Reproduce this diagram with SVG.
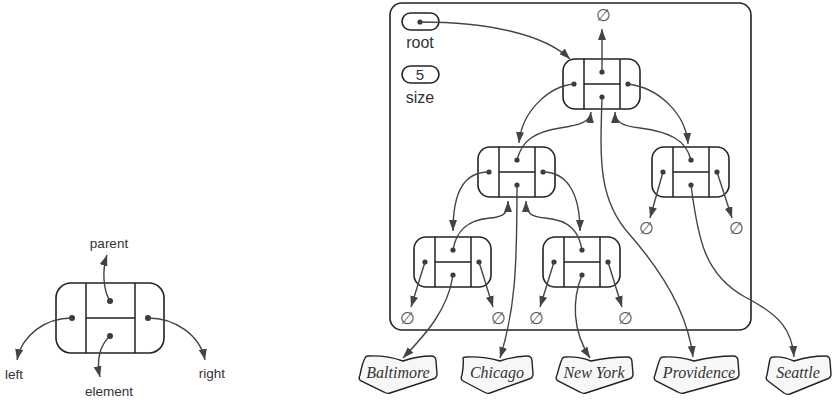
<svg xmlns="http://www.w3.org/2000/svg" width="835" height="405" viewBox="0 0 835 405">
<style>
.box{fill:#fff;stroke:#222;stroke-width:1.6}
.div{stroke:#222;stroke-width:1.5;fill:none}
.dot{fill:#3a3a3a}
.con{fill:none;stroke:#444;stroke-width:1.4}
.lbl{font-family:"Liberation Sans",Arial,sans-serif;fill:#333}
.nul{font-family:"DejaVu Serif","Liberation Serif",serif;font-size:17px;fill:#555;text-anchor:middle}
.tag{fill:#f7f7f7;stroke:#222;stroke-width:1.4}
.city{font-family:"Liberation Serif","Times New Roman",serif;font-style:italic;font-size:16px;fill:#333;text-anchor:middle}
</style>
<defs>
<marker id="ah" markerUnits="userSpaceOnUse" markerWidth="11" markerHeight="8" refX="11" refY="4" orient="auto">
<path d="M0,0 L11,4 L0,8 z" fill="#444"/>
</marker>
<g id="tn">
<rect class="box" x="0" y="0" width="77" height="50" rx="12"/>
<path class="div" d="M21,0 V50 M57,0 V50 M21,25 H57"/>
<circle class="dot" cx="11" cy="25" r="2.6"/>
<circle class="dot" cx="39" cy="13" r="2.6"/>
<circle class="dot" cx="65" cy="25" r="2.6"/>
<circle class="dot" cx="39" cy="38" r="2.6"/>
</g>
</defs>

<g id="legend">
<rect class="box" x="56" y="283" width="108" height="70" rx="15"/>
<path class="div" d="M86,283 V353 M135,283 V353 M86,318 H135"/>
<circle class="dot" cx="110" cy="301" r="3"/>
<circle class="dot" cx="72" cy="318" r="3"/>
<circle class="dot" cx="148" cy="318" r="3"/>
<circle class="dot" cx="110" cy="336" r="3"/>
<text class="lbl" x="109" y="248" font-size="13.5" text-anchor="middle">parent</text>
<text class="lbl" x="14" y="379" font-size="13.5" text-anchor="middle">left</text>
<text class="lbl" x="109" y="396" font-size="13.5" text-anchor="middle">element</text>
<text class="lbl" x="212" y="378" font-size="13.5" text-anchor="middle">right</text>
</g>

<g id="container">
<rect x="390" y="3" width="361" height="327" rx="12" fill="none" stroke="#222" stroke-width="1.6"/>
</g>

<g id="root">
<rect class="box" x="402" y="13" width="37" height="17" rx="8.5"/>
<circle class="dot" cx="420" cy="22" r="2.6"/>
<text class="lbl" x="420" y="48" font-size="16" text-anchor="middle">root</text>
</g>
<g id="size">
<rect class="box" x="402" y="66" width="37" height="17" rx="8.5"/>
<text class="lbl" x="420" y="80" font-size="15" text-anchor="middle">5</text>
<text class="lbl" x="420" y="103" font-size="16" text-anchor="middle">size</text>
</g>

<g id="node-root"><use href="#tn" x="563" y="59"/></g>
<g id="node-ml"><use href="#tn" x="478" y="147"/></g>
<g id="node-r"><use href="#tn" x="652" y="147"/></g>
<g id="node-bl"><use href="#tn" x="414" y="237"/></g>
<g id="node-br"><use href="#tn" x="543" y="237"/></g>

<g id="nulls">
<text class="nul" x="603" y="21">∅</text>
<text class="nul" x="407" y="324">∅</text>
<text class="nul" x="498" y="324">∅</text>
<text class="nul" x="536" y="324">∅</text>
<text class="nul" x="625" y="324">∅</text>
<text class="nul" x="646" y="234">∅</text>
<text class="nul" x="736" y="234">∅</text>
</g>

<g id="tag-baltimore">
<path class="tag" d="M368,356 Q386,355 403,361 Q418,356 431,356 Q436,356 436,361 L437,374 Q437,378 433,379 L390,393 Q387,394 384,392 L361,381 Q358,379 360,375 Q362,364 365,358 Q366,356 368,356 Z"/>
<text class="city" x="398" y="378">Baltimore</text>
</g>
<g id="tag-chicago">
<path class="tag" d="M466,357 Q483,356 500,361 Q515,356 527,356 Q532,356 532,361 L533,374 Q533,378 529,379 L490,393 Q487,394 484,392 L463,381 Q460,379 462,375 Q464,364 463,358 Q464,357 466,357 Z"/>
<text class="city" x="497" y="378">Chicago</text>
</g>
<g id="tag-newyork">
<path class="tag" d="M565,357 Q578,356 591,361 Q610,357 627,357 Q632,357 632,362 L633,374 Q633,378 629,379 L586,393 Q583,394 580,392 L558,381 Q555,379 557,375 Q560,364 562,359 Q563,357 565,357 Z"/>
<text class="city" x="594" y="378">New York</text>
</g>
<g id="tag-providence">
<path class="tag" d="M663,357 Q678,356 694,361 Q715,356 733,356 Q738,356 738,361 L739,374 Q739,378 735,379 L684,393 Q681,394 678,392 L656,381 Q653,379 655,375 Q658,364 660,359 Q661,357 663,357 Z"/>
<text class="city" x="699" y="378">Providence</text>
</g>
<g id="tag-seattle">
<path class="tag" d="M773,357 Q783,356 794,361 Q810,356 825,356 Q830,356 830,361 L831,374 Q831,378 827,379 L790,394 Q787,395 784,393 L768,381 Q765,379 767,375 Q769,364 770,359 Q771,357 773,357 Z"/>
<text class="city" x="798" y="378">Seattle</text>
</g>

<g id="connectors">
<path class="con" marker-end="url(#ah)" d="M110,301 C103,290 102,270 107,255"/>
<path class="con" marker-end="url(#ah)" d="M72,318 C45,318 22,335 17,360"/>
<path class="con" marker-end="url(#ah)" d="M148,318 C175,318 200,335 205,360"/>
<path class="con" marker-end="url(#ah)" d="M110,336 C100,345 96,360 100,377"/>

<path class="con" marker-end="url(#ah)" d="M420,22 C490,22 545,35 570,59"/>
<path class="con" marker-end="url(#ah)" d="M602,72 L602,29"/>
<path class="con" marker-end="url(#ah)" d="M574,84 C550,86 522,110 519,143"/>
<path class="con" marker-end="url(#ah)" d="M628,84 C660,88 686,115 688,144"/>
<path class="con" marker-end="url(#ah)" d="M517,160 C522,140 535,132 560,128 C580,125 590,122 591,112"/>
<path class="con" marker-end="url(#ah)" d="M691,160 C686,140 670,132 640,128 C622,126 615,122 615,112"/>
<path class="con" marker-end="url(#ah)" d="M602,97 C600,160 598,200 630,235 C665,275 688,315 693,357"/>
<path class="con" marker-end="url(#ah)" d="M691,185 C698,240 705,275 745,297 C780,315 792,330 794,357"/>
<path class="con" marker-end="url(#ah)" d="M663,172 L650,218"/>
<path class="con" marker-end="url(#ah)" d="M717,172 L732,218"/>

<path class="con" marker-end="url(#ah)" d="M489,172 C465,172 453,190 453,231"/>
<path class="con" marker-end="url(#ah)" d="M543,172 C568,172 580,195 580,231"/>
<path class="con" marker-end="url(#ah)" d="M453,250 C456,232 466,220 490,218 C505,217 508,212 508,201"/>
<path class="con" marker-end="url(#ah)" d="M582,250 C579,232 570,220 545,218 C530,217 526,212 526,201"/>
<path class="con" marker-end="url(#ah)" d="M517,185 C517,270 515,310 500,358"/>

<path class="con" marker-end="url(#ah)" d="M425,262 L411,307"/>
<path class="con" marker-end="url(#ah)" d="M479,262 L493,307"/>
<path class="con" marker-end="url(#ah)" d="M453,275 C448,310 425,335 403,358"/>
<path class="con" marker-end="url(#ah)" d="M554,262 L540,307"/>
<path class="con" marker-end="url(#ah)" d="M608,262 L622,307"/>
<path class="con" marker-end="url(#ah)" d="M582,275 C572,300 572,330 590,358"/>
</g>
</svg>
